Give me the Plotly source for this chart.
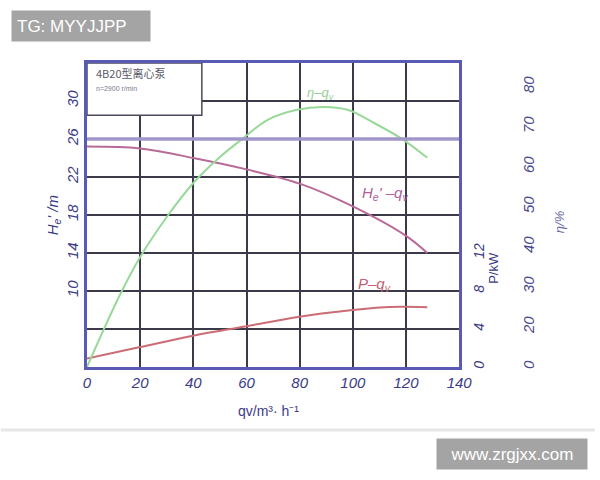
import plotly.graph_objects as go

# ---- data ----
q_head = [0, 20, 40, 60, 80, 100, 120, 128]
head = [25.2, 25.0, 24.0, 22.8, 21.3, 18.9, 15.8, 14.0]

q_eff = [0, 12, 20, 30, 40, 50, 58, 68, 79, 89, 98, 108, 119, 128]
eff = [10, 27.5, 37.5, 47.5, 56, 62.5, 66.8, 71.8, 74.3, 75, 74.3, 71, 66.8, 62.3]

q_power = [0, 20, 40, 60, 80, 100, 112, 128]
power = [0.9, 2.1, 3.3, 4.3, 5.3, 6.0, 6.3, 6.3]

x_ticks = [0, 20, 40, 60, 80, 100, 120, 140]
h_tick_vals = [10, 14, 18, 22, 26, 30]
p_tick_vals = [0, 4, 8, 12]
eta_tick_vals = [10, 20, 30, 40, 50, 60, 70, 80]
eta_tick_text = ["0", "20", "30", "40", "50", "60", "70", "80"]
highlight_h = 26

box_title = "4B20型离心泵"
box_sub = "n=2900 r/min"

# ---- figure ----
W, H = 600, 480
ML, MR, MT, MB = 87, 20, 63, 113
pw = W - ML - MR
ph = H - MT - MB
xdom = (463 - ML) / pw


def px(xp):
    return (xp - ML) / pw


def py(yp):
    return (H - MB - yp) / ph


tick_font = dict(family="Liberation Sans, Arial", size=15, color="#3b3b86", style="italic")
grid_col = "#3a3a48"

fig = go.Figure()
fig.add_trace(go.Scatter(x=q_eff, y=eff, mode="lines", yaxis="y3",
                         line=dict(color="#98d898", width=2, shape="spline"), showlegend=False))
fig.add_trace(go.Scatter(x=q_head, y=head, mode="lines", yaxis="y",
                         line=dict(color="#b86a98", width=2, shape="spline"), showlegend=False))
fig.add_trace(go.Scatter(x=q_power, y=power, mode="lines", yaxis="y2",
                         line=dict(color="#cc6c74", width=2, shape="spline"), showlegend=False))

fig.update_layout(
    width=W, height=H,
    margin=dict(l=ML, r=MR, t=MT, b=MB),
    paper_bgcolor="white", plot_bgcolor="white",
    xaxis=dict(domain=[0, xdom], range=[0, 140], tickvals=x_ticks, showgrid=True,
               gridcolor=grid_col, gridwidth=2, zeroline=False, showline=True,
               linecolor="#5a5ab4", linewidth=3, mirror=True, ticks="",
               tickfont=tick_font),
    yaxis=dict(range=[2, 34], tickvals=h_tick_vals, tickangle=-90,
               showgrid=True, gridcolor=grid_col, gridwidth=2, zeroline=False,
               minor=dict(tick0=2, dtick=4, showgrid=True, gridcolor=grid_col, gridwidth=2,
                          ticks=""),
               showline=True, linecolor="#5a5ab4", linewidth=3, mirror=True, ticks="",
               tickfont=tick_font, ticklabelstandoff=0),
    yaxis2=dict(range=[0, 32], tickvals=p_tick_vals, tickangle=-90, overlaying="y",
                side="right", anchor="x", showgrid=False, zeroline=False, showline=False,
                ticks="", tickfont=dict(family="Liberation Sans, Arial", size=14,
                                        color="#3b3b86", style="italic"),
                ticklabelstandoff=10),
    yaxis3=dict(range=[10, 86], tickvals=eta_tick_vals, ticktext=eta_tick_text,
                tickangle=-90, overlaying="y", side="right", anchor="free",
                position=px(522), showgrid=False, zeroline=False, showline=False,
                ticks="", tickfont=dict(family="Liberation Sans, Arial", size=15,
                                        color="#4a4a8e", style="italic")),
    shapes=[
        dict(type="line", xref="x", yref="y", x0=0, x1=140, y0=highlight_h, y1=highlight_h,
             line=dict(color="#a096c8", width=3.5), layer="above"),
        dict(type="rect", xref="x", yref="y", x0=0, x1=43.2, y0=28.5, y1=34,
             fillcolor="white", line=dict(color="#4a4a5a", width=1.5), layer="above"),
        dict(type="line", xref="paper", yref="paper", x0=px(0), x1=px(600),
             y0=py(430), y1=py(430), line=dict(color="#e6e6e6", width=3)),
    ],
    annotations=[
        dict(xref="x", yref="y", x=2.5, y=33.0, text=box_title, showarrow=False,
             xanchor="left", font=dict(family="Noto Sans CJK SC", size=11, color="#5a5a6a")),
        dict(xref="x", yref="y", x=2.5, y=31.3, text=box_sub, showarrow=False,
             xanchor="left", font=dict(family="Liberation Sans", size=7, color="#7a7a8a")),
        dict(xref="x", yref="y", x=88, y=30.8, text="η–q<sub>v</sub>", showarrow=False,
             font=dict(family="Liberation Sans", size=13, color="#98d098", style="italic")),
        dict(xref="x", yref="y", x=112, y=20.3, text="H<sub>e</sub>' –q<sub>v</sub>",
             showarrow=False,
             font=dict(family="Liberation Sans", size=15, color="#b0609a", style="italic")),
        dict(xref="x", yref="y", x=108, y=10.7, text="P–q<sub>v</sub>", showarrow=False,
             font=dict(family="Liberation Sans", size=15, color="#c06070", style="italic")),
        dict(xref="paper", yref="paper", x=px(53), y=py(215), textangle=-90,
             xanchor="center", yanchor="middle",
             text="H<sub>e</sub>' /m", showarrow=False,
             font=dict(family="Liberation Sans", size=15, color="#3b3b86", style="italic")),
        dict(xref="paper", yref="paper", x=px(497), y=py(268), textangle=-90,
             xanchor="center", yanchor="middle",
             text="P/kW", showarrow=False,
             font=dict(family="Liberation Sans", size=13, color="#3b3b86")),
        dict(xref="paper", yref="paper", x=px(564), y=py(222), textangle=-90,
             xanchor="center", yanchor="middle",
             text="η/%", showarrow=False,
             font=dict(family="Liberation Sans", size=13, color="#6a6aa6", style="italic")),
        dict(xref="paper", yref="paper", x=px(270), y=py(411),
             xanchor="center", yanchor="middle",
             text="qv/m³· h⁻¹", showarrow=False,
             font=dict(family="Liberation Sans", size=14, color="#3b3b86")),
        dict(xref="paper", yref="paper", x=px(10), y=py(10), xanchor="left", yanchor="top",
             text="TG: MYYJJPP", showarrow=False, bgcolor="#a4a4a4", borderpad=5,
             width=128, height=20, align="left",
             font=dict(family="Liberation Sans", size=17, color="white")),
        dict(xref="paper", yref="paper", x=px(440), y=py(470), xanchor="left",
             yanchor="bottom", text="www.zrgjxx.com", showarrow=False, bgcolor="#a4a4a4",
             borderpad=5, width=140, height=20,
             font=dict(family="Liberation Sans", size=17, color="white")),
    ],
)

fig.write_html("out.html", config={"displayModeBar": False},
               post_script="document.body.style.margin='0px';")
